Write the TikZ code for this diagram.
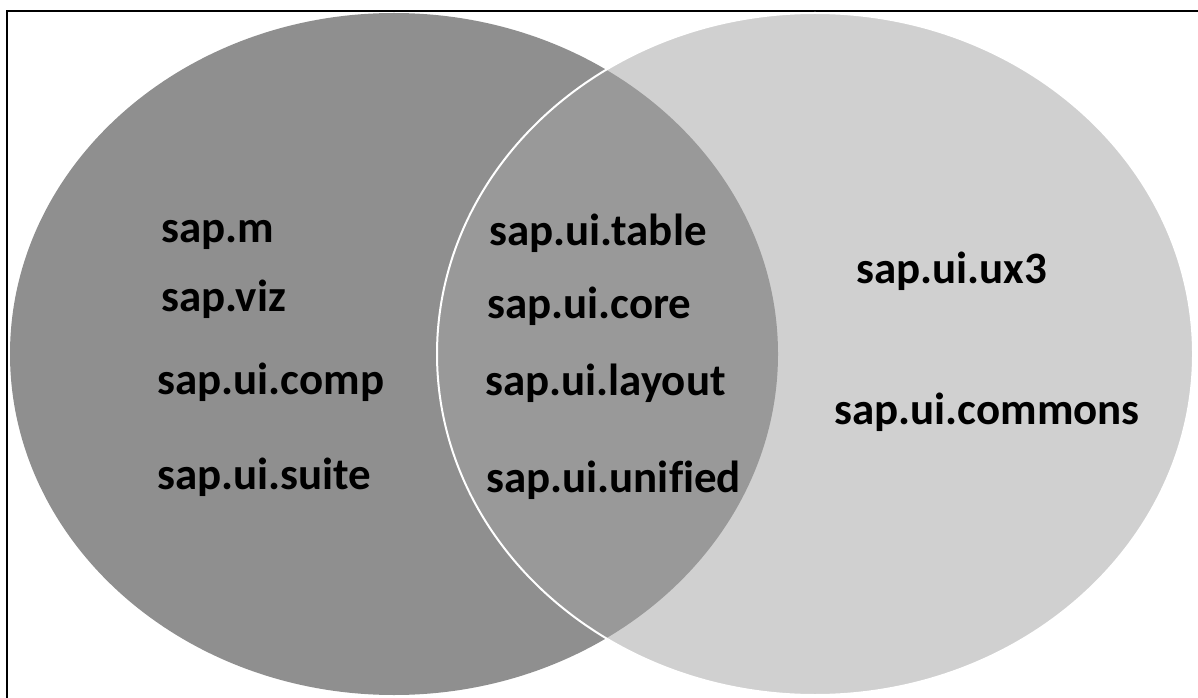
\documentclass[tikz,border=0pt]{standalone}
\usepackage{fontspec}
\setmainfont{Carlito}[Ligatures=NoCommon]
\definecolor{leftgray}{RGB}{143,143,143}
\definecolor{midgray}{RGB}{153,153,153}
\definecolor{rightgray}{RGB}{208,208,208}
\tikzset{every node/.style={inner sep=0pt, anchor=base west}, lib/.style={font=\bfseries\fontsize{33.7}{40}\selectfont}}

\begin{document}
\begin{tikzpicture}[x=0.75pt, y=-0.75pt]
\clip (0,0) rectangle (1198,698);
\draw[line width=1.5pt] (6.5,11) rectangle (1220,720);
% the two sets
\fill[leftgray] (394,354) ellipse [x radius=288pt, y radius=255.75pt];
\fill[rightgray] (815,354) ellipse [x radius=283.5pt, y radius=255.75pt];
\begin{scope}
  \clip (394,354) ellipse [x radius=288pt, y radius=255.75pt];
  \fill[midgray] (815,354) ellipse [x radius=283.5pt, y radius=255.75pt];
\end{scope}
\draw[white, line width=1.5pt] (815,354) ellipse [x radius=283.5pt, y radius=255.75pt];
% left only
\node [lib] (m) at (161,243) {sap.m};
\node [lib] (viz) at (161,311) {sap.viz};
\node [lib] (comp) at (157,394) {sap.ui.comp};
\node [lib] (suite) at (157,489) {sap.ui.suite};
% both
\node [lib] (table) at (489,246) {sap.ui.table};
\node [lib] (core) at (487,319) {sap.ui.core};
\node [lib] (layout) at (485,395) {sap.ui.layout};
\node [lib] (unified) at (486,492) {sap.ui.unified};
% right only
\node [lib] (ux3) at (856,284) {sap.ui.ux3};
\node [lib] (commons) at (834,424) {sap.ui.commons};
\end{tikzpicture}
\end{document}
